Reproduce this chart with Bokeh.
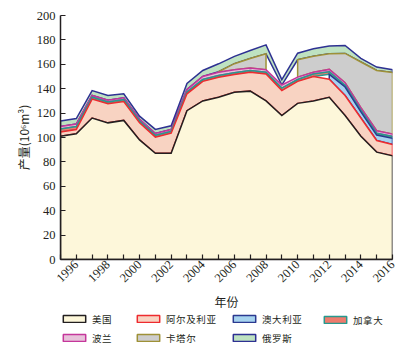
import math
from bokeh.plotting import figure
from bokeh.layouts import column
from bokeh.models import FixedTicker, Legend, LegendItem, ColumnDataSource, Range1d
from bokeh.embed import file_html
from bokeh.resources import INLINE

years = list(range(1995, 2017))
us = [101, 103, 116, 112, 114, 98, 87, 87, 122, 130, 133, 137, 138, 130, 118, 128, 130, 133, 118, 101, 88, 85]
algeria = [3.5, 3.5, 15.5, 15.6, 15.5, 14, 13.3, 16.5, 13.8, 16, 16.4, 14.6, 15.5, 22, 20.5, 18, 20, 14.8, 16.4, 15, 9.5, 9.3]
australia = [None] * 17 + [4, 7, 5, 4.5, 5]
canada = [2.5, 2.5, 1.5, 1.5, 1.5, 1.5, 1.5, 1.5, 1.5, 1.5, 1.5, 1.5, 1.5, 1.5, 2, 1.5, 2, 2, 1.5, 1.5, 1.5, 1.5]
poland = [2, 2, 1.5, 1.5, 1.5, 1.5, 1.5, 1.5, 2, 2.5, 2.5, 2.5, 2, 2, 2.5, 2, 1.5, 2, 2, 2, 2, 2]
qatar = [None] * 10 + [0.5, 4.9, 7.7, 13.1, None, 14.2, 13.1, 12.8, 24, 37.4, 49.5, 50.5]
russia = [4.5, 4.5, 4, 3.8, 3.3, 2.5, 3.3, 3.1, 5, 4.9, 6.5, 6, 6.6, 7.3, 4.5, 5.4, 6.1, 6.3, 6.5, 3, 2.7, 2.3]

names = ["美国", "阿尔及利亚", "澳大利亚", "加拿大", "波兰", "卡塔尔", "俄罗斯"]
series = [us, algeria, australia, canada, poland, qatar, russia]
fills = ["#FDF7DA", "#F8D3C2", "#A6D3EF", "#EE7B6D", "#E7C2DA", "#CDCDCD", "#BEE2C1"]
lines = ["#231F20", "#EE2B2F", "#2B3990", "#27998E", "#C5379B", "#9E9137", "#2E3192"]

y_ticks = list(range(0, 201, 20))
x_label_years = list(range(1996, 2017, 2))

p = figure(width=406, height=312, x_range=(1995, 2016), y_range=(0, 200),
           output_backend="svg", toolbar_location=None, title=None,
           min_border_left=60, min_border_right=14, min_border_top=15, min_border_bottom=53)
p.outline_line_color = None
p.xgrid.visible = False
p.ygrid.visible = False

# compute stacks
bottoms = []
tops = []
cum = [0.0] * len(years)
for s in series:
    b = list(cum)
    t = [c + (v if v is not None else 0) for c, v in zip(cum, s)]
    bottoms.append(b)
    tops.append(t)
    cum = t

sources = [None] * len(series)
for i in reversed(range(len(series))):
    s = series[i]
    segs = []
    seg = []
    for j, v in enumerate(s):
        if v is not None:
            seg.append(j)
        else:
            if seg:
                segs.append(seg)
            seg = []
    if seg:
        segs.append(seg)
    px, py = [], []
    for seg in segs:
        xx = [years[j] for j in seg] + [years[j] for j in reversed(seg)]
        yy = [tops[i][j] for j in seg] + [bottoms[i][j] for j in reversed(seg)]
        px.append(xx)
        py.append(yy)
    src = ColumnDataSource(dict(xs=px, ys=py))
    sources[i] = src
    p.patches("xs", "ys", source=src, fill_color=fills[i], line_color=lines[i],
              line_width=1.5, line_join="miter")

p.xaxis.ticker = FixedTicker(ticks=years)
p.xaxis.major_label_overrides = {y: (str(y) if y in x_label_years else "") for y in years}
p.xaxis.major_label_orientation = math.pi / 4
p.yaxis.ticker = FixedTicker(ticks=y_ticks)

for ax in (p.xaxis, p.yaxis):
    ax.axis_line_color = "#231F20"
    ax.axis_line_width = 1.5
    ax.major_tick_line_color = "#231F20"
    ax.major_tick_line_width = 1.2
    ax.major_tick_in = 5
    ax.major_tick_out = 0
    ax.minor_tick_line_color = None
    ax.major_label_text_font = "Liberation Serif"
    ax.major_label_text_font_size = "12.5px"
    ax.major_label_text_color = "#231F20"
    ax.axis_label_text_font = "Noto Sans CJK SC"
    ax.axis_label_text_font_size = "12px"
    ax.axis_label_text_font_style = "normal"
    ax.axis_label_text_color = "#231F20"

p.xaxis.axis_label = "年份"
p.yaxis.axis_label = "产量(10⁶m³)"
p.xaxis.major_label_standoff = 3
p.yaxis.major_label_standoff = 5
p.xaxis.axis_label_standoff = 4
p.yaxis.axis_label_standoff = 2

# legend figure (same sources, drawn outside its visible range so only the legend shows)
LF_H = 41
lf = figure(width=406, height=LF_H, x_range=Range1d(0, 1), y_range=Range1d(0, 1),
            output_backend="svg", toolbar_location=None, title=None,
            x_axis_location=None, y_axis_location=None,
            min_border_left=60, min_border_right=14, min_border_top=0, min_border_bottom=0)
lf.outline_line_color = None
lf.grid.visible = False
lrs = []
for i in range(len(names)):
    r = lf.patches("xs", "ys", source=sources[i], fill_color=fills[i], line_color=lines[i],
                   line_width=1.5)
    lrs.append(r)

columns_idx = [[0, 4], [1, 5], [2, 6], [3]]
col_x = [0, 74, 170, 261]
for cols, cx in zip(columns_idx, col_x):
    items = [LegendItem(label="\u200a".join(names[i]), renderers=[lrs[i]]) for i in cols]
    nrow = len(cols)
    h = nrow * 13 + (nrow - 1) * 5
    legend = Legend(items=items, location=(cx, LF_H - 1.5 - h),
                    glyph_width=28, glyph_height=9, label_standoff=4,
                    label_text_font="Noto Sans CJK SC", label_text_font_size="9.5px",
                    label_text_color="#231F20", spacing=5, padding=0, margin=0,
                    border_line_alpha=0, background_fill_alpha=0, label_height=9,
                    label_text_baseline="middle")
    lf.add_layout(legend, "center")

layout = column(p, lf, spacing=0)
open("out.html", "w").write(file_html(layout, INLINE))
